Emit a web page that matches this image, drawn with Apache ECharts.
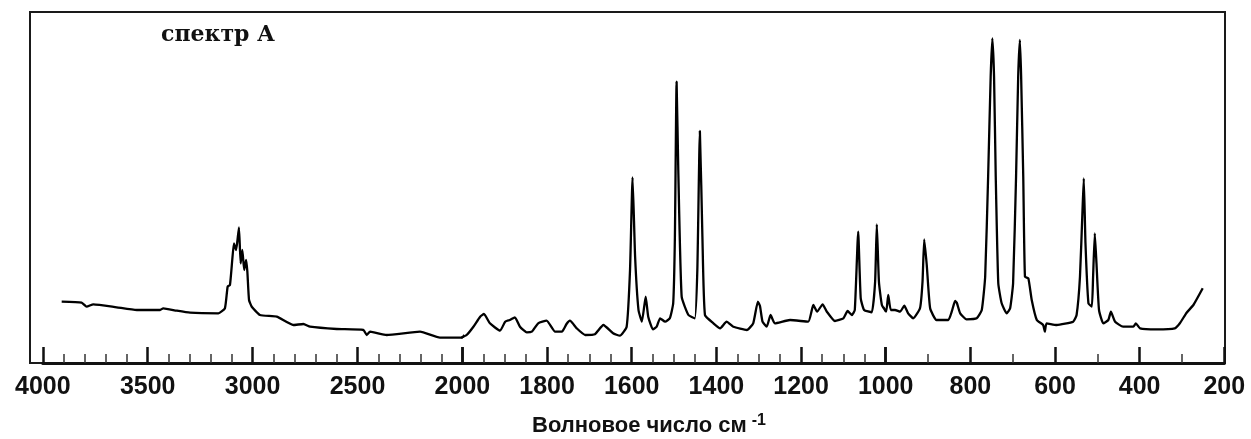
<!DOCTYPE html>
<html>
<head>
<meta charset="utf-8">
<script src="https://cdn.jsdelivr.net/npm/echarts@6/dist/echarts.min.js"></script>
<style>html,body{margin:0;padding:0;background:#fff}#c{width:1251px;height:439px}</style>
</head>
<body>
<div id="c"></div>
<script>
// Wavenumber (cm-1) and relative intensity (arbitrary units)
const wavenumbers = [
  3910,3815,3791,3759,3648,3552,3441,3426,3362,3298,3163,3132,3119,3108,3097,3089,3079,3073,3065,3057,
  3049,3040,3031,3025,3017,3004,2965,2885,2806,2758,2726,2599,2472,2456,2440,2361,2202,2107,2003,
  1990,1974,1958,1949,1935,1911,1899,1888,1876,1864,1848,1836,1821,1801,1781,1765,1754,1746,1730,1710,
  1687,1667,1644,1628,1612,1604,1598,1592,1584,1576,1567,1561,1550,1541,1533,1521,1510,1502,1498,1494,
  1490,1482,1466,1451,1445,1439,1433,1427,1407,1391,1376,1360,1328,1313,1302,1297,1291,1281,1272,1262,
  1226,1183,1171,1162,1149,1139,1120,1100,1090,1080,1073,1065,1059,1051,1033,1025,1021,1016,1009,999,
  994,988,978,966,956,947,935,919,913,909,903,895,880,852,844,836,832,824,809,785,773,765,758,752,748,
  744,740,734,726,714,706,699,692,687,683,680,675,671,663,655,643,628,624,620,596,557,549,541,535,532,
  528,521,513,510,506,502,496,486,474,468,458,439,415,409,399,360,317,305,289,273,251
];
const intensities = [
  61.3,60.3,56.3,58.7,55.7,53,53,54.7,52.3,50.3,49.7,54.7,76.3,78,103,119.7,113,121.3,135.7,99.7,
  113,93,103,91.3,63,56.3,48,46.3,38,39,36.3,34,33,28,31.3,28,31.3,25.3,25.3,
  28,36.3,46.3,49,39.7,32.3,41.3,43,45.7,36.3,30.7,31.3,39.7,42.3,31.3,31.3,39,42.3,34.7,28,
  28.7,38,29.7,27.3,36.3,93,185.7,106.3,53,41.3,66.3,46.3,33.7,36.3,44.7,41.3,44.7,59.7,126.3,281.3,
  193,66.3,48,44.7,93,232,126.3,48,39.7,34.7,41.3,36.3,33,39.7,61.3,57,41.3,36.3,48,39.7,
  43,41.3,58,51.3,58.7,51.3,42,44.7,52,48,53,131.3,64.7,53,50.7,81.3,138.7,81.3,58,51.3,
  68,53,53,51.3,57.3,49.7,44.7,54.7,81.3,123.7,98,54.7,43,43,51.3,62,60.3,49.7,43.7,44.7,53,86.3,186.3,286.3,324.7,
  286.3,186.3,79.7,59.7,49.7,54.7,79.7,186.3,286.3,323,286.3,186.3,86.3,84.7,63,43,38,31.3,39.7,38,41.3,48,86.3,153,184.7,
  119.7,59.7,56.3,86.3,129.7,99.7,53,39.7,43,51.3,41.3,36.3,36.3,39.7,34.7,33.7,34.7,39.7,50.3,58,74.7
];
// Axis segments: [from, to, major step, minor splits]
const segFrom   = [4000, 2000, 1000];
const segTo     = [2000, 1000, 200];
const segMajor  = [500, 200, 200];
const segMinor  = [5, 4, 2];
const titleText = 'спектр А';
const axisTitle = 'Волновое число см';
const axisTitleSup = '-1';

const gridLefts  = [42.8, 462.4, 885.7];
const gridWidths = [419.6, 423.3, 338.6];
const TOP = 12, H = 351, YMAX = 351;

function segment(lo, hi) {
  const pts = [];
  const inR = i => i >= 0 && i < wavenumbers.length && wavenumbers[i] >= lo && wavenumbers[i] <= hi;
  for (let i = 0; i < wavenumbers.length; i++) {
    if (inR(i) || inR(i - 1) || inR(i + 1)) pts.push([wavenumbers[i], intensities[i]]);
  }
  return pts;
}

const labelStyle = {
  fontFamily: '"Liberation Sans Narrow", "Liberation Sans", Arial, sans-serif',
  fontWeight: 'bold', fontSize: 25, color: '#111', margin: 12,
  formatter: v => String(v)
};

const grids = [{ left: 30, top: TOP, width: 1195, height: H, show: true, borderWidth: 2, borderColor: '#1a1a1a', backgroundColor: 'transparent' }];
const xAxes = [{ gridIndex: 0, type: 'value', show: false, min: 0, max: 1 }];
const yAxes = [{ gridIndex: 0, type: 'value', show: false, min: 0, max: YMAX }];
const series = [];
for (let k = 0; k < 3; k++) {
  grids.push({ left: gridLefts[k], top: TOP, width: gridWidths[k], height: H, show: false });
  xAxes.push({
    gridIndex: k + 1, type: 'value', inverse: true,
    min: segTo[k], max: segFrom[k], interval: segMajor[k],
    axisLine: { show: true, onZero: false, lineStyle: { color: '#111', width: 3 } },
    axisTick: { show: true, inside: true, length: 16, lineStyle: { color: '#111', width: 2.5 } },
    minorTick: { show: true, splitNumber: segMinor[k], length: 9, lineStyle: { color: '#333', width: 1.5 } },
    splitLine: { show: false },
    axisLabel: Object.assign({ showMinLabel: k === 2, showMaxLabel: true }, labelStyle)
  });
  yAxes.push({ gridIndex: k + 1, type: 'value', show: false, min: 0, max: YMAX });
  series.push({
    type: 'line', xAxisIndex: k + 1, yAxisIndex: k + 1,
    data: segment(segTo[k], segFrom[k]), showSymbol: false, clip: true,
    lineStyle: { color: '#000', width: 2.3 }, smooth: 0.15, animation: false
  });
}

const chart = echarts.init(document.getElementById('c'), null, { renderer: 'canvas' });
chart.setOption({
  animation: false,
  backgroundColor: '#fff',
  title: [
    { text: titleText, left: 156, top: 19,
      textStyle: { fontFamily: '"DejaVu Serif", "Liberation Serif", serif', fontWeight: 'bold', fontSize: 22, color: '#111' } },
    { text: '{a|' + axisTitle + '}{b|' + axisTitleSup + '}', left: 527, top: 408,
      textStyle: { rich: {
        a: { fontFamily: '"Liberation Sans", Arial, sans-serif', fontWeight: 'bold', fontSize: 22, color: '#111', lineHeight: 26 },
        b: { fontFamily: '"Liberation Sans", Arial, sans-serif', fontWeight: 'bold', fontSize: 16, color: '#111', verticalAlign: 'top', padding: [0, 0, 0, 5], lineHeight: 16 }
      } } }
  ],
  grid: grids, xAxis: xAxes, yAxis: yAxes, series: series
});
</script>
</body>
</html>
